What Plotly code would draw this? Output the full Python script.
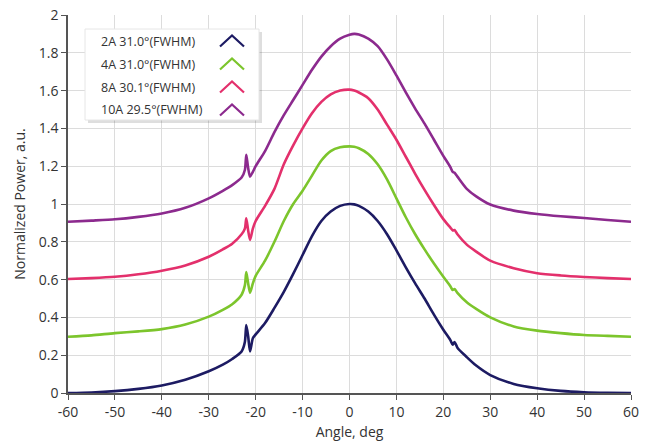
import plotly.graph_objects as go

# ---------------- data ----------------
series_names = ["2A 31.0°(FWHM)", "4A 31.0°(FWHM)", "8A 30.1°(FWHM)", "10A 29.5°(FWHM)"]
series_colors = ["#1d1b63", "#7cc52c", "#e3306c", "#8c2a8e"]

angles = [-60, -55, -50, -45, -40, -35, -30, -27, -25, -23, -22.3, -22, -21.6, -21.2, -20.6, -20,
          -18, -16, -14, -12, -10, -8, -6, -4, -2, 0, 1, 2, 4, 6, 8, 10, 12, 14, 16, 18, 20,
          21.5, 22, 22.4, 23, 25, 27, 30, 35, 40, 45, 50, 55, 60]

power_2a = [0.0, 0.003, 0.01, 0.022, 0.04, 0.07, 0.115, 0.15, 0.18, 0.22, 0.27, 0.36, 0.30, 0.22, 0.29, 0.31,
            0.37, 0.45, 0.535, 0.63, 0.73, 0.83, 0.91, 0.96, 0.99, 1.0, 0.998, 0.99, 0.96, 0.91, 0.84, 0.755, 0.665, 0.58, 0.50, 0.415, 0.335,
            0.28, 0.255, 0.27, 0.24, 0.19, 0.145, 0.095, 0.048, 0.025, 0.011, 0.004, 0.001, 0.0]

power_4a = [0.298, 0.305, 0.317, 0.326, 0.338, 0.362, 0.404, 0.44, 0.47, 0.52, 0.57, 0.64, 0.58, 0.53, 0.58, 0.62,
            0.70, 0.80, 0.91, 1.00, 1.07, 1.15, 1.23, 1.28, 1.30, 1.305, 1.303, 1.295, 1.265, 1.21, 1.13, 1.03, 0.93, 0.84, 0.76, 0.685, 0.615,
            0.565, 0.545, 0.55, 0.53, 0.48, 0.445, 0.40, 0.352, 0.33, 0.317, 0.307, 0.302, 0.298]

power_8a = [0.603, 0.608, 0.615, 0.628, 0.647, 0.675, 0.721, 0.76, 0.79, 0.84, 0.87, 0.925, 0.86, 0.81, 0.87, 0.91,
            0.99, 1.08, 1.21, 1.31, 1.40, 1.48, 1.54, 1.58, 1.60, 1.605, 1.60, 1.59, 1.56, 1.50, 1.42, 1.34, 1.25, 1.16, 1.075, 0.995, 0.92,
            0.875, 0.86, 0.862, 0.84, 0.785, 0.748, 0.70, 0.66, 0.634, 0.622, 0.614, 0.608, 0.603]

power_10a = [0.906, 0.912, 0.919, 0.932, 0.95, 0.98, 1.03, 1.07, 1.10, 1.14, 1.18, 1.26, 1.19, 1.145, 1.17, 1.20,
             1.28, 1.38, 1.47, 1.55, 1.63, 1.71, 1.78, 1.835, 1.875, 1.895, 1.90, 1.897, 1.875, 1.835, 1.765, 1.68, 1.59, 1.505, 1.425, 1.34, 1.255,
             1.195, 1.17, 1.165, 1.145, 1.08, 1.04, 0.997, 0.965, 0.947, 0.935, 0.926, 0.915, 0.906]

x_tick_vals = [-60, -50, -40, -30, -20, -10, 0, 10, 20, 30, 40, 50, 60]
x_tick_labels = ["-60", "-50", "-40", "-30", "-20", "-10", "0", "10", "20", "30", "40", "50", "60"]
y_tick_vals = [0, 0.2, 0.4, 0.6, 0.8, 1.0, 1.2, 1.4, 1.6, 1.8, 2.0]
y_tick_labels = ["0", "0.2", "0.4", "0.6", "0.8", "1", "1.2", "1.4", "1.6", "1.8", "2"]

all_power = [power_2a, power_4a, power_8a, power_10a]

# ---------------- figure ----------------
W, H = 652, 448
ML, MR, MT, MB = 68, 21, 15, 55
PW, PH = W - ML - MR, H - MT - MB

fig = go.Figure()
for name, color, ys in zip(series_names, series_colors, all_power):
    fig.add_trace(go.Scatter(x=angles, y=ys, mode="lines", name=name,
                             line=dict(color=color, width=2.6, shape="spline", smoothing=0.7),
                             showlegend=False))

font_family = "Open Sans"
text_color = "#333333"

fig.update_layout(
    width=W, height=H,
    margin=dict(l=ML, r=MR, t=MT, b=MB),
    paper_bgcolor="white", plot_bgcolor="white",
    font=dict(family=font_family, size=13, color=text_color),
    xaxis=dict(range=[-60, 60], tickvals=x_tick_vals, ticktext=x_tick_labels,
               showgrid=True, gridcolor="#dcdcdc", gridwidth=1,
               showline=True, linecolor="#555555", linewidth=1.5,
               ticks="outside", ticklen=5, tickcolor="#555555",
               zeroline=False, automargin=False,
               title=dict(text="Angle, deg", standoff=8, font=dict(size=14, color=text_color)),
               tickfont=dict(size=14, color=text_color)),
    yaxis=dict(range=[0, 2], tickvals=y_tick_vals, ticktext=y_tick_labels,
               showgrid=True, gridcolor="#dcdcdc", gridwidth=1,
               showline=True, linecolor="#555555", linewidth=1.5,
               ticks="outside", ticklen=5, tickcolor="#555555",
               zeroline=False, automargin=False,
               title=dict(text="Normalized Power, a.u.", standoff=10, font=dict(size=14, color=text_color)),
               tickfont=dict(size=14, color=text_color)),
)

# ---------------- manual legend (text then chevron glyph) ----------------
def px_x(px):
    return (px - ML) / PW

def px_y(py):
    return (H - MB - py) / PH

box_l, box_r, box_t, box_b = 85, 259, 29, 120
shapes = []
shapes.append(dict(type="rect", xref="paper", yref="paper", layer="above",
                   x0=px_x(box_l + 3), x1=px_x(box_r + 3), y0=px_y(box_b + 3), y1=px_y(box_t + 3),
                   fillcolor="rgba(0,0,0,0.13)", line=dict(width=0)))
shapes.append(dict(type="rect", xref="paper", yref="paper", layer="above",
                   x0=px_x(box_l), x1=px_x(box_r), y0=px_y(box_b), y1=px_y(box_t),
                   fillcolor="white", line=dict(color="#e6e6e6", width=1)))

row_y = [41, 64, 87, 110]
annotations = []
for name, color, ry in zip(series_names, series_colors, row_y):
    annotations.append(dict(xref="paper", yref="paper", x=px_x(99), y=px_y(ry),
                            xanchor="left", yanchor="middle", showarrow=False,
                            text=name, font=dict(size=12.5, color=text_color, family=font_family)))
    cx, half_w, half_h = 232, 12, 5.5
    path = "M {} {} L {} {} L {} {}".format(
        px_x(cx - half_w), px_y(ry + half_h),
        px_x(cx), px_y(ry - half_h),
        px_x(cx + half_w), px_y(ry + half_h))
    shapes.append(dict(type="path", xref="paper", yref="paper", layer="above",
                       path=path, line=dict(color=color, width=2.2)))

fig.update_layout(shapes=shapes, annotations=annotations)

fig.write_html("out.html", config={"displayModeBar": False},
               post_script="document.body.style.margin='0';document.body.style.overflow='hidden';")
